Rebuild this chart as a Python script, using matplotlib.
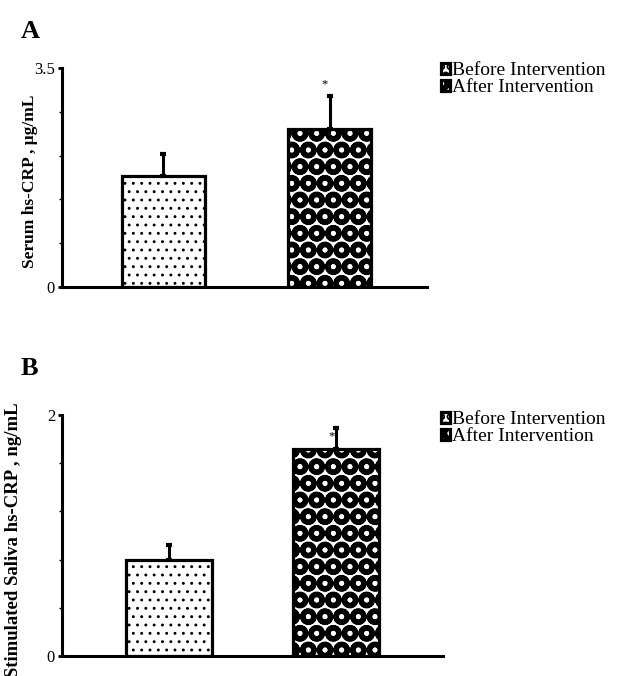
import matplotlib
matplotlib.use('Agg')
import matplotlib.pyplot as plt
import numpy as np

plt.rcParams['font.family'] = ['Liberation Serif', 'DejaVu Serif']

groups = ['Before Intervention', 'After Intervention']

# panel A - serum hs-CRP
serum_mean = [1.78, 2.53]
serum_err = [0.35, 0.52]
# panel B - stimulated saliva hs-CRP
saliva_mean = [0.80, 1.72]
saliva_err = [0.12, 0.17]

fig = plt.figure(figsize=(6.17, 6.76), dpi=100)

axA = fig.add_axes([0.1005, 0.5754, 0.5916, 0.324])
axB = fig.add_axes([0.1005, 0.0296, 0.6175, 0.3565])


def draw_panel(ax, means, errs, ymax, minor_step, ylabel, label_size, xlim, width,
               label_xy, leg_y):
    x = np.arange(len(means))
    plt.rcParams['hatch.linewidth'] = 0.9
    b1 = ax.bar(x[0], means[0], width=width, color='white', edgecolor='black',
                linewidth=2.3, hatch='..', label=groups[0], zorder=2)
    plt.rcParams['hatch.linewidth'] = 3.7
    b2 = ax.bar(x[1], means[1], width=width, color='white', edgecolor='black',
                linewidth=2.3, hatch='O', label=groups[1], zorder=2)
    ax.errorbar(x, means, yerr=[np.zeros(len(errs)), errs], fmt='none',
                ecolor='black', elinewidth=2.2, capsize=2.5, capthick=3, zorder=1)
    ax.set_xlim(*xlim)
    ax.set_ylim(0, ymax)
    ax.spines['top'].set_visible(False)
    ax.spines['right'].set_visible(False)
    ax.spines['left'].set_linewidth(2.2)
    ax.spines['bottom'].set_linewidth(2.2)
    ax.set_xticks([])
    ax.set_yticks([0, ymax])
    ax.set_yticklabels(['0', ('%g' % ymax)], fontsize=12)
    ax.set_yticks(np.arange(minor_step, ymax, minor_step), minor=True)
    ax.tick_params(axis='y', which='major', length=3, width=2, pad=2)
    ax.tick_params(axis='y', which='minor', length=2, width=1)
    ax.set_ylabel(ylabel, fontsize=label_size, fontweight='bold', ha='right')
    ax.yaxis.set_label_coords(*label_xy)
    fig.legend(handles=[b1, b2], loc='upper left', bbox_to_anchor=(0.714, leg_y),
               frameon=False, fontsize=14, handlelength=0.5, handleheight=0.5,
               handletextpad=0.1, labelspacing=0.0, borderaxespad=0,
               borderpad=0)
    return ax


draw_panel(axA, serum_mean, serum_err, 3.5, 0.7, 'Serum hs-CRP , μg/mL', 12.5,
           (-0.611, 1.587), 0.5, (-0.066, 0.877), 0.908)
draw_panel(axB, saliva_mean, saliva_err, 2, 0.4,
           'Stimulated Saliva hs-CRP , ng/mL', 13.5,
           (-0.641, 1.64), 0.515, (-0.105, 1.054), 0.392)

axA.text(0.97, serum_mean[1] + serum_err[1] + 0.1, '*', ha='center', va='bottom',
         fontsize=9)
axB.text(0.97, saliva_mean[1] + saliva_err[1] - 0.12, '*', ha='center',
         va='bottom', fontsize=9)

fig.text(0.034, 0.954, 'A', fontsize=19, fontweight='bold', ha='left', va='center')
fig.text(0.034, 0.455, 'B', fontsize=19, fontweight='bold', ha='left', va='center')

fig.savefig('out.png', dpi=100)
